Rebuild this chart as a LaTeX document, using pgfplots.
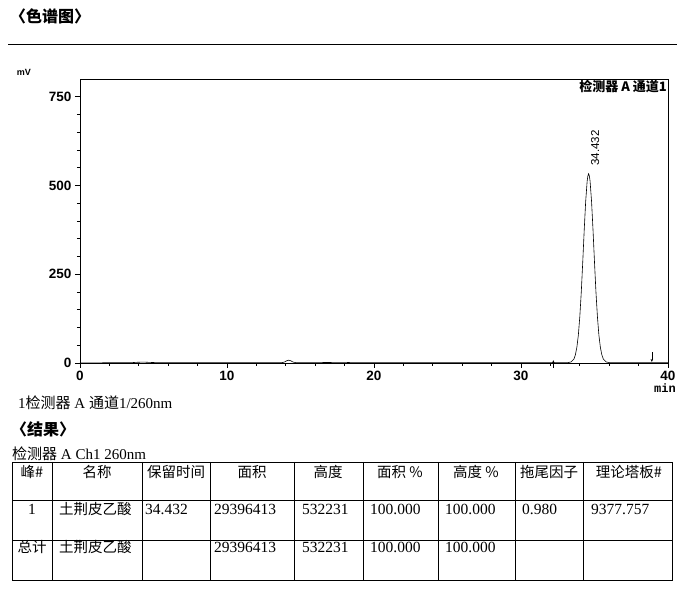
\documentclass[border=0pt]{standalone}
\usepackage{fontspec}
\setmainfont{Liberation Serif}
\newfontfamily\cjk{Noto Sans CJK SC}
\newfontfamily\arial{Liberation Sans}
\newfontfamily\mono{Liberation Mono}
\usepackage{pgfplots}
\pgfplotsset{compat=1.18}
\usetikzlibrary{arrows.meta}

% chromatogram, detector A ch1 260nm (mV vs min)
\pgfplotstableread{
t     mv
0.0   0.5
3.4   0.6
3.7   1.5
4.0   2.2
4.4   2.4
4.8   1.6
5.2   1.0
10.0  0.8
13.7  0.8
13.9  2.5
14.05 6.0
14.2  8.0
14.35 6.0
14.5  2.5
14.7  0.9
16.0  1.0
17.0  1.5
18.0  1.8
18.5  1.0
25.0  0.8
32.0  1.0
33.0  1.0
33.2  1.2
33.4  2.8
33.6  11
33.7  23
33.8  44
33.9  78
34.0  130
34.1  199
34.2  284
34.3  374
34.4  455
34.5  512
34.55 527
34.6  533
34.65 527
34.7  512
34.8  455
34.9  374
35.0  284
35.1  199
35.2  130
35.3  78
35.4  44
35.5  23
35.6  11
35.8  2.8
36.0  1.2
36.2  1.0
40.0  1.0
}\chrom

\begin{document}
\begin{tikzpicture}[x=1pt,y=1pt]
\path (0,0) rectangle (681,594);

% header
\node[anchor=base west,inner sep=0] at (10,571)
  {\cjk\bfseries\fontsize{16}{16}\selectfont 〈色谱图〉};
\draw[line width=0.7pt] (8,550) -- (677,550);
\node[anchor=center,inner sep=0] at (24,522)
  {\arial\bfseries\fontsize{9}{9}\selectfont mV};

\begin{axis}[
  at={(80pt,231pt)}, anchor=south west,
  scale only axis, width=588pt, height=284pt,
  xmin=0, xmax=40, ymin=0, ymax=800,
  xtick={0,10,20,30,40}, ytick={0,250,500,750},
  minor x tick num=4, minor y tick num=4,
  tick pos=left, tick align=outside,
  major tick length=5pt, minor tick length=3pt,
  axis line style={line width=0.7pt},
  tick style={black, line width=0.6pt},
  ticklabel style={font=\arial\bfseries\fontsize{13.5}{13.5}\selectfont},
  /pgf/number format/assume math mode=true,
  clip=false,
]
\addplot[black, line width=0.6pt] table[x=t,y=mv] {\chrom};
% integration markers
\addplot[black, thin, -{Stealth[length=3pt,width=2.5pt]}] coordinates {(32.2,-14) (32.2,8)};
\addplot[black, thin, -{Stealth[length=3pt,width=2.5pt]}] coordinates {(38.9,30) (38.9,3)};
\node[rotate=90, anchor=west, inner sep=0, font=\arial\fontsize{11.5}{11.5}\selectfont]
  at (axis cs:35.05,555) {34.432};
\node[anchor=north east, inner sep=1pt, font=\cjk\bfseries\fontsize{13}{13}\selectfont]
  at (rel axis cs:1,1) {检测器 A 通道1};
\end{axis}

\node[anchor=center,inner sep=0] at (665,206)
  {\mono\bfseries\fontsize{12}{12}\selectfont min};

% caption and results
\node[anchor=base west,inner sep=0] at (18,185)
  {\fontsize{15}{15}\selectfont 1{\cjk 检测器} A {\cjk 通道}1/260nm};
\node[anchor=base west,inner sep=0] at (11,158)
  {\cjk\bfseries\fontsize{16}{16}\selectfont 〈结果〉};
\node[anchor=base west,inner sep=0] at (12,134)
  {\fontsize{15}{15}\selectfont {\cjk 检测器} A Ch1 260nm};

% table grid
\begin{scope}[line width=0.6pt]
\draw (12,132) rectangle (672,14);
\draw (12,94) -- (672,94);
\draw (12,54) -- (672,54);
\foreach \c in {52,142,210,294,363,438,515,583}
  \draw (\c,132) -- (\c,14);
\end{scope}

% header row
\begin{scope}[every node/.style={anchor=base,inner sep=0,font=\cjk\fontsize{14.5}{14.5}\selectfont}]
\node at (32,116.5) {峰\#};
\node at (97,116.5) {名称};
\node at (176,116.5) {保留时间};
\node at (252,116.5) {面积};
\node at (328,116.5) {高度};
\node at (400,116.5) {面积 \%};
\node at (476,116.5) {高度 \%};
\node at (549,116.5) {拖尾因子};
\node at (629,116.5) {理论塔板\#};
\end{scope}

% data rows
\begin{scope}[every node/.style={anchor=base west,inner sep=0,font=\fontsize{15.5}{15.5}\selectfont}]
\node[anchor=base] at (32,79) {1};
\node at (59,79) {\cjk\fontsize{14.5}{14.5}\selectfont 土荆皮乙酸};
\node at (145,79) {34.432};
\node at (214,79) {29396413};
\node at (302,79) {532231};
\node at (370,79) {100.000};
\node at (445,79) {100.000};
\node at (522,79) {0.980};
\node at (591,79) {9377.757};
\node[anchor=base] at (32,41) {\cjk\fontsize{14.5}{14.5}\selectfont 总计};
\node at (59,41) {\cjk\fontsize{14.5}{14.5}\selectfont 土荆皮乙酸};
\node at (214,41) {29396413};
\node at (302,41) {532231};
\node at (370,41) {100.000};
\node at (445,41) {100.000};
\end{scope}
\end{tikzpicture}
\end{document}
